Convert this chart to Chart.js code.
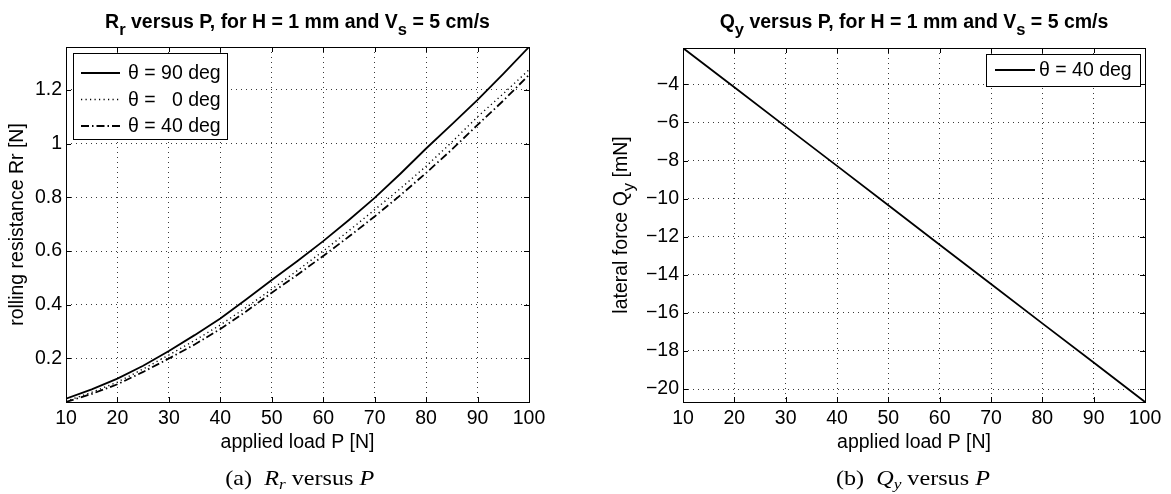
<!DOCTYPE html>
<html>
<head>
<meta charset="utf-8">
<script src="https://cdn.jsdelivr.net/npm/chart.js@4.4.1/dist/chart.umd.min.js"></script>
<style>
  html, body { margin: 0; padding: 0; background: #fff; }
  body { width: 1171px; height: 494px; position: relative; overflow: hidden; }
  .wrap { position: absolute; top: 0; height: 494px; }
  .cap { position: absolute; top: 465px; line-height: 26px; font-family: 'Liberation Serif', 'Times New Roman', serif; font-size: 21px; color: #000; white-space: nowrap; transform-origin: center; }
  .cap i { font-style: italic; }
  .cap sub { font-size: 15px; vertical-align: -4px; line-height: 0; }
</style>
</head>
<body>
<div class="wrap" style="left:0;width:585px"><canvas id="c1" width="585" height="494"></canvas></div>
<div class="wrap" style="left:585px;width:586px"><canvas id="c2" width="586" height="494"></canvas></div>
<div class="cap" id="capA">(a)&nbsp;&nbsp;<i>R<sub>r</sub></i> versus <i>P</i></div>
<div class="cap" id="capB">(b)&nbsp;&nbsp;<i>Q<sub>y</sub></i> versus <i>P</i></div>
<script>
// ---------------- data ----------------
const loads = [10, 15, 20, 25, 30, 35, 40, 45, 50, 55, 60, 65, 70, 75, 80, 85, 90, 95, 100];
const rr90  = [0.050, 0.085, 0.125, 0.173, 0.228, 0.287, 0.349, 0.420, 0.492, 0.563, 0.637, 0.716, 0.798, 0.888, 0.982, 1.072, 1.163, 1.260, 1.360];
const rr0   = [0.041, 0.074, 0.112, 0.161, 0.213, 0.267, 0.325, 0.390, 0.458, 0.528, 0.600, 0.676, 0.754, 0.833, 0.916, 1.006, 1.100, 1.186, 1.275];
const rr40  = [0.038, 0.068, 0.104, 0.150, 0.200, 0.252, 0.310, 0.375, 0.445, 0.512, 0.582, 0.654, 0.729, 0.808, 0.891, 0.978, 1.070, 1.160, 1.256];
const rrLabels = ['\u03B8 = 90 deg', '\u03B8 =   0 deg', '\u03B8 = 40 deg'];

const qLoads = [10, 20, 30, 40, 50, 60, 70, 80, 90, 100];
const qy40   = [-2.09, -4.15, -6.22, -8.28, -10.35, -12.42, -14.48, -16.55, -18.61, -20.68];
const qLabels = ['\u03B8 = 40 deg'];

const xTicks  = [10, 20, 30, 40, 50, 60, 70, 80, 90, 100];
const rrTicks = [0.2, 0.4, 0.6, 0.8, 1, 1.2];
const qTicks  = [-20, -18, -16, -14, -12, -10, -8, -6, -4];

// ---------------- helpers ----------------
const FAM = "'Liberation Sans', Arial, Helvetica, sans-serif";
const FS = 19.5;
Chart.defaults.font.family = FAM;
Chart.defaults.font.size = FS;
Chart.defaults.color = '#000';

function pts(xs, ys) { return xs.map((x, i) => ({ x: x, y: ys[i] })); }
function fmt(v) { return String(Math.round(v * 1000) / 1000).replace('-', '\u2212'); }

function drawRich(ctx, parts, x, y, o) {
  const size = o.size, w8 = o.weight || 'normal';
  const subSize = size * (o.subScale || 0.8), subDy = o.subDy || size * 0.38;
  let total = 0;
  const widths = parts.map(p => {
    ctx.font = w8 + ' ' + (p[1] ? subSize : size) + 'px ' + FAM;
    const w = ctx.measureText(p[0]).width; total += w; return w;
  });
  ctx.save();
  ctx.translate(x, y);
  if (o.rotate) ctx.rotate(o.rotate);
  ctx.textAlign = 'left'; ctx.textBaseline = 'alphabetic'; ctx.fillStyle = '#000';
  let cx = -total / 2;
  parts.forEach((p, i) => {
    ctx.font = w8 + ' ' + (p[1] ? subSize : size) + 'px ' + FAM;
    ctx.fillText(p[0], cx, p[1] ? subDy : 0);
    cx += widths[i];
  });
  ctx.restore();
}

const decor = {
  id: 'decor',
  afterDraw(chart, args, opts) {
    const ctx = chart.ctx, a = chart.chartArea;
    const xs = chart.scales.x, ys = chart.scales.y;
    ctx.save();
    // inner tick marks
    ctx.strokeStyle = '#000'; ctx.lineWidth = 1; ctx.setLineDash([]);
    const tl = 5;
    ctx.beginPath();
    xs.ticks.forEach(t => {
      const px = Math.round(xs.getPixelForValue(t.value)) + 0.5;
      ctx.moveTo(px, a.bottom); ctx.lineTo(px, a.bottom - tl);
      ctx.moveTo(px, a.top); ctx.lineTo(px, a.top + tl);
    });
    ys.ticks.forEach(t => {
      const py = Math.round(ys.getPixelForValue(t.value)) + 0.5;
      ctx.moveTo(a.left, py); ctx.lineTo(a.left + tl, py);
      ctx.moveTo(a.right, py); ctx.lineTo(a.right - tl, py);
    });
    ctx.stroke();
    // box
    ctx.strokeRect(Math.round(a.left) + 0.5, Math.round(a.top) + 0.5, Math.round(a.right - a.left), Math.round(a.bottom - a.top));
    // legend
    const L = opts.legend;
    ctx.fillStyle = '#fff';
    ctx.fillRect(L.x, L.y, L.w, L.h);
    ctx.strokeRect(L.x + 0.5, L.y + 0.5, L.w, L.h);
    chart.data.datasets.forEach((ds, i) => {
      const cy = L.y + L.first + i * L.step;
      ctx.save();
      ctx.strokeStyle = ds.borderColor; ctx.lineWidth = ds.borderWidth;
      ctx.setLineDash(ds.borderDash || []);
      ctx.beginPath(); ctx.moveTo(L.x + L.l0, cy); ctx.lineTo(L.x + L.l1, cy); ctx.stroke();
      ctx.restore();
      ctx.fillStyle = '#000'; ctx.font = FS + 'px ' + FAM;
      ctx.textAlign = 'left'; ctx.textBaseline = 'middle';
      ctx.fillText(ds.label, L.x + L.tx, cy + 1);
    });
    // title
    const cxm = (a.left + a.right) / 2;
    drawRich(ctx, opts.title, cxm, opts.titleY, { size: 19.5, weight: 'bold', subScale: 0.85, subDy: 7 });
    // x label
    drawRich(ctx, [[opts.xlabel, false]], cxm, opts.xlabelY, { size: FS });
    // y label
    drawRich(ctx, opts.ylabel, opts.ylabelX, (a.top + a.bottom) / 2, { size: FS, rotate: -Math.PI / 2, subScale: 0.85, subDy: 7 });
    ctx.restore();
  }
};

function baseOptions(cfg) {
  return {
    responsive: false,
    animation: false,
    devicePixelRatio: 1,
    layout: { padding: cfg.pad },
    plugins: { legend: { display: false }, tooltip: { enabled: false }, title: { display: false }, decor: cfg.decor },
    elements: { point: { radius: 0 }, line: { tension: 0 } },
    scales: {
      x: {
        type: 'linear', min: 10, max: 100,
        afterFit: s => { s.height = cfg.xh; },
        afterBuildTicks: s => { s.ticks = xTicks.map(v => ({ value: v })); },
        ticks: { padding: 5, maxRotation: 0, autoSkip: false, callback: v => fmt(v) },
        grid: { color: '#3a3a3a', lineWidth: 1, drawTicks: false },
        border: { display: false, dash: [1, 4] }
      },
      y: {
        type: 'linear', min: cfg.ymin, max: cfg.ymax,
        afterFit: s => { s.width = cfg.yw; },
        afterBuildTicks: s => { s.ticks = cfg.yticks.map(v => ({ value: v })); },
        ticks: { padding: 4, autoSkip: false, callback: v => fmt(v) },
        grid: { color: '#3a3a3a', lineWidth: 1, drawTicks: false },
        border: { display: false, dash: [1, 4] }
      }
    }
  };
}

new Chart(document.getElementById('c1'), {
  type: 'line',
  data: {
    datasets: [
      { label: rrLabels[0], data: pts(loads, rr90), borderColor: '#000', borderWidth: 1.8, borderDash: [] },
      { label: rrLabels[1], data: pts(loads, rr0), borderColor: '#000', borderWidth: 1.4, borderDash: [1.2, 3.3] },
      { label: rrLabels[2], data: pts(loads, rr40), borderColor: '#000', borderWidth: 1.8, borderDash: [8, 3, 1.5, 3] }
    ]
  },
  options: baseOptions({
    pad: { left: 0, top: 47, right: 56, bottom: 0 },
    xh: 92, yw: 66,
    ymin: 0.038, ymax: 1.36, yticks: rrTicks,
    decor: {
      title: [['R', false], ['r', true], [' versus P, for H = 1 mm and V', false], ['s', true], [' = 5 cm/s', false]],
      titleY: 28,
      xlabel: 'applied load P [N]', xlabelY: 448,
      ylabel: [['rolling resistance Rr [N]', false]], ylabelX: 23,
      legend: { x: 73, y: 53, w: 154, h: 86, first: 20, step: 26.5, l0: 8, l1: 47, tx: 55 }
    }
  }),
  plugins: [decor]
});

new Chart(document.getElementById('c2'), {
  type: 'line',
  data: {
    datasets: [
      { label: qLabels[0], data: pts(qLoads, qy40), borderColor: '#000', borderWidth: 1.8, borderDash: [] }
    ]
  },
  options: baseOptions({
    pad: { left: 0, top: 48, right: 26, bottom: 0 },
    xh: 92, yw: 98,
    ymin: -20.68, ymax: -2.09, yticks: qTicks,
    decor: {
      title: [['Q', false], ['y', true], [' versus P, for H = 1 mm and V', false], ['s', true], [' = 5 cm/s', false]],
      titleY: 28,
      xlabel: 'applied load P [N]', xlabelY: 448,
      ylabel: [['lateral force Q', false], ['y', true], [' [mN]', false]], ylabelX: 42,
      legend: { x: 401, y: 54, w: 154, h: 32, first: 16, step: 26.5, l0: 9, l1: 49, tx: 53 }
    }
  }),
  plugins: [decor]
});

// captions, centred under the plots
function placeCap(id, cx) {
  const el = document.getElementById(id);
  el.style.left = (cx - el.offsetWidth / 2) + 'px';
  el.style.transform = 'scaleX(1.15)';
}
placeCap('capA', 299);
placeCap('capB', 913);
</script>
</body>
</html>
